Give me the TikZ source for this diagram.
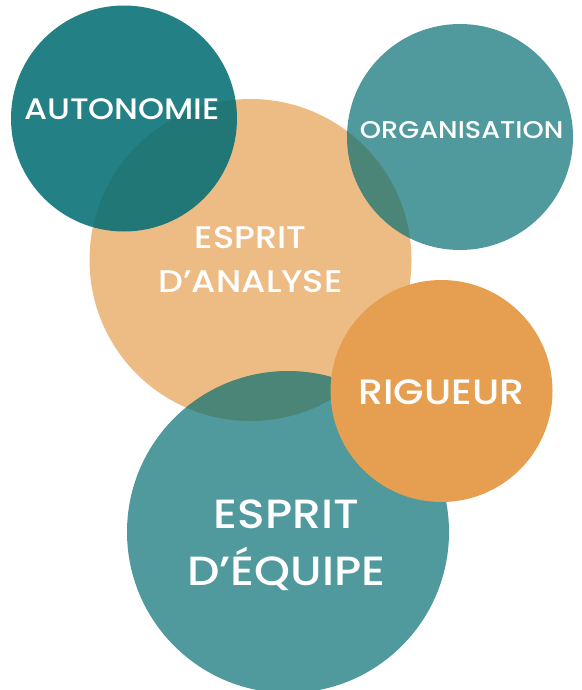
\documentclass[tikz,border=0pt]{standalone}
\usepackage{fontspec}
\setmainfont{Poppins Medium}[FakeStretch=1.12]
\usepackage{tikz}
\definecolor{sarcelle}{RGB}{5,110,116}
\definecolor{orangec}{RGB}{230,159,80}

\begin{document}
\begin{tikzpicture}[x=1pt,y=-1pt,
  bulle/.style={circle,draw=none,inner sep=0pt},
  mot/.style={text=white,align=center,inner sep=0pt}]
\useasboundingbox (0,0) rectangle (581,690);
\clip (0,0) rectangle (581,690);

\node[bulle,minimum size=322pt,fill=orangec,fill opacity=0.7] (analyse) at (250.5,260) {};
\node[bulle,minimum size=226pt,fill=sarcelle,fill opacity=0.88] (autonomie) at (124,118.5) {};
\node[bulle,minimum size=226pt,fill=sarcelle,fill opacity=0.7] (organisation) at (460,137) {};
\node[bulle,minimum size=322pt,fill=sarcelle,fill opacity=0.7] (equipe) at (288,532) {};
\node[bulle,minimum size=222pt,fill=orangec] (rigueur) at (441.5,391) {};

\node[mot,font=\fontsize{29.6}{36}\selectfont] (t-autonomie) at (122,108.7) {AUTONOMIE};
\node[mot,font=\fontsize{24.2}{30}\selectfont] (t-organisation) at (461.7,130.5) {ORGANISATION};
\node[mot,font=\fontsize{31.3}{44.4}\selectfont] (t-analyse) at (250.5,259.5) {ESPRIT\\D’ANALYSE};
\node[mot,font=\fontsize{35.2}{40}\selectfont] (t-rigueur) at (441.3,392) {RIGUEUR};
\node[mot,font=\fontsize{40.8}{56.7}\selectfont] (t-equipe) at (286.5,545) {ESPRIT\\D’ÉQUIPE};

\end{tikzpicture}
\end{document}
